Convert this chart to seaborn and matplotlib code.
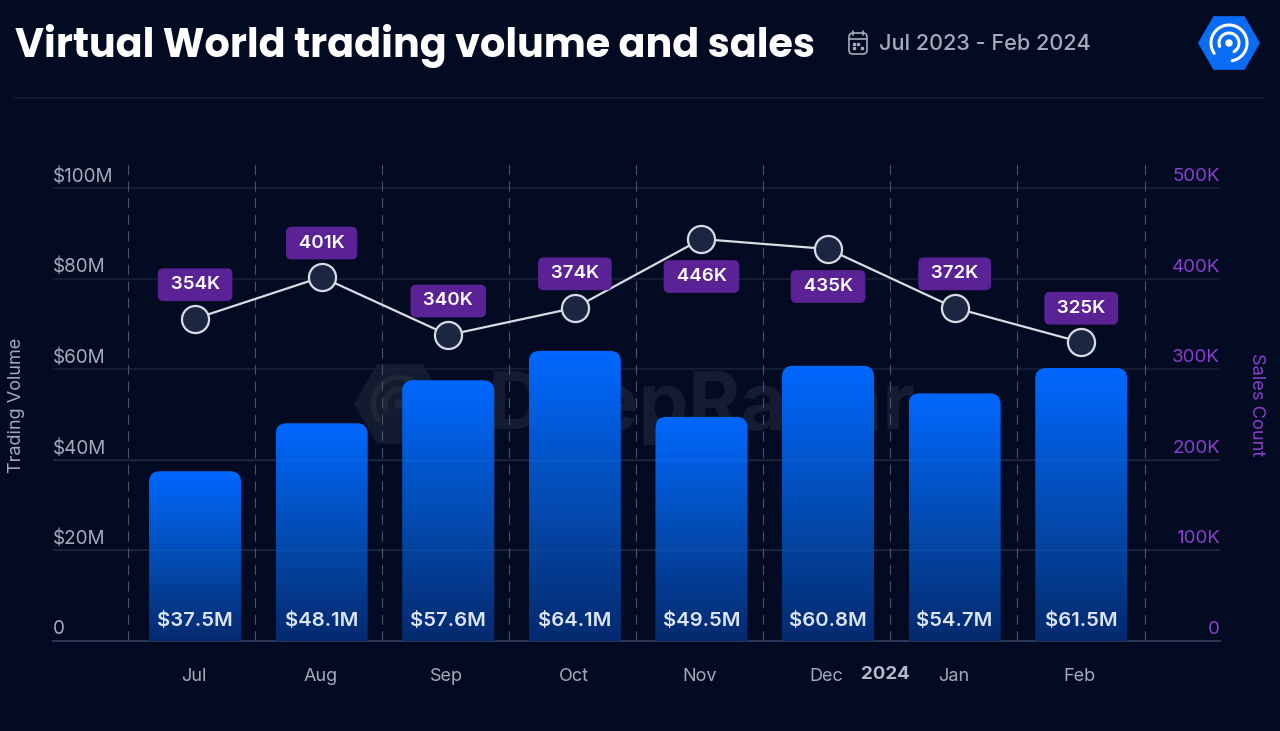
import numpy as np
import pandas as pd
import matplotlib.pyplot as plt
import seaborn as sns
from matplotlib.colors import LinearSegmentedColormap
from matplotlib.patches import Arc, Circle, FancyBboxPatch, PathPatch, RegularPolygon
from matplotlib.path import Path
from matplotlib.transforms import ScaledTranslation

# Data (marks as they sit on the axes, labels as printed)
months = ["Jul", "Aug", "Sep", "Oct", "Nov", "Dec", "Jan", "Feb"]
volume = [37.5, 48.1, 57.6, 64.1, 49.5, 60.8, 54.7, 60.3]
volume_text = ["$37.5M", "$48.1M", "$57.6M", "$64.1M", "$49.5M", "$60.8M", "$54.7M", "$61.5M"]
sales = [356, 402, 338, 368, 444, 433, 368, 330]
sales_text = ["354K", "401K", "340K", "374K", "446K", "435K", "372K", "325K"]
volume_ticks = [0, 20, 40, 60, 80, 100]
volume_labels = ["0", "$20M", "$40M", "$60M", "$80M", "$100M"]
sales_ticks = [0, 100, 200, 300, 400, 500]
sales_labels = ["0", "100K", "200K", "300K", "400K", "500K"]
# sales label sits below the point for these months
below = ["Nov", "Dec"]

BG = "#020b22"
GRID = "#16213a"
GREY = "#a4abba"
PURPLE = "#8a3fcf"

sns.set_theme(style="dark")
plt.rcParams["font.family"] = ["Inter", "DejaVu Sans"]

df = pd.DataFrame({"month": months, "volume": volume, "sales": sales})

fig = plt.figure(figsize=(12.8, 7.31), dpi=100, facecolor=BG)


def draw_logo(axis, cx, cy, size, hex_color, ring_color, lw):
    axis.add_patch(RegularPolygon((cx, cy), 6, radius=size, orientation=np.pi / 2,
                                  facecolor=hex_color, edgecolor="none"))
    r = size / 31
    # y axis is flipped here, so the angles run the other way round on screen
    axis.add_patch(Arc((cx, cy), 36 * r, 36 * r, theta1=145, theta2=80, color=ring_color,
                       lw=lw, capstyle="round"))
    axis.add_patch(Arc((cx, cy), 20 * r, 20 * r, theta1=160, theta2=60, color=ring_color,
                       lw=lw, capstyle="round"))
    axis.add_patch(Circle((cx, cy), 3 * r, color=ring_color))


# Backdrop in pixel coordinates: header and watermark
bg = fig.add_axes([0, 0, 1, 1], zorder=-1)
bg.set_xlim(0, 1280)
bg.set_ylim(731, 0)
bg.axis("off")
bg.text(15, 46, "Virtual World trading volume and sales", fontsize=28.6, fontweight="bold",
        color="white", va="center", ha="left", family=["Poppins", "Inter", "DejaVu Sans"])
bg.text(879, 44, "Jul 2023 - Feb 2024", fontsize=15.6, fontweight="medium", color=GREY,
        va="center", ha="left")
bg.plot([14, 1263], [98, 98], color="#141e33", lw=1.2)
bg.add_patch(FancyBboxPatch((849, 33), 18, 21, boxstyle="round,pad=0,rounding_size=4",
                            facecolor="none", edgecolor=GREY, lw=1.2))
bg.plot([849, 867], [39, 39], color=GREY, lw=1.2)
bg.plot([853, 853], [31, 35], color=GREY, lw=1.2)
bg.plot([863, 863], [31, 35], color=GREY, lw=1.2)
bg.plot([854, 858, 854, 862], [44, 44, 48, 48], ls="none", marker="s", ms=1.4, color=GREY)
draw_logo(bg, 1229, 43, 31, "#0a6cf5", "white", 2.2)
# watermark
draw_logo(bg, 400, 404, 46, "#121b2f", "#1e2739", 4)
bg.text(488, 408, "DeepRadar", fontsize=57, fontweight="bold", color="#131c31", va="center", ha="left")

# Main axes: left 53 px, right 1220 px, top 163 px, bottom 641 px
ax = fig.add_axes([53 / 1280, (731 - 641) / 731, (1220 - 53) / 1280, (641 - 163) / 731])
ax.patch.set_visible(False)

sns.barplot(data=df, x="month", y="volume", ax=ax, width=0.727, color="#0066ff", saturation=1)

# Swap the plain bars for gradient ones with rounded top corners
cmap = LinearSegmentedColormap.from_list("bar", ["#042a6e", "#034db5", "#0068ff"])
gradient = np.linspace(0, 1, 256).reshape(-1, 1)
xlim = (-1.122, 8.096)
ylim = (0, 105.6)
rx, ry = 0.085, 2.4
for bar in ax.patches:
    x0, w, h = bar.get_x(), bar.get_width(), bar.get_height()
    bar.set_visible(False)
    outline = Path(
        [(x0, 0), (x0, h - ry), (x0, h), (x0 + rx, h), (x0 + w - rx, h), (x0 + w, h),
         (x0 + w, h - ry), (x0 + w, 0), (x0, 0)],
        [Path.MOVETO, Path.LINETO, Path.CURVE3, Path.CURVE3, Path.LINETO, Path.CURVE3,
         Path.CURVE3, Path.LINETO, Path.CLOSEPOLY])
    img = ax.imshow(gradient, extent=(x0, x0 + w, 0, h), origin="lower", aspect="auto",
                    cmap=cmap, zorder=3)
    clip = PathPatch(outline, transform=ax.transData, facecolor="none", edgecolor="none")
    ax.add_patch(clip)
    img.set_clip_path(clip)

for i, t in enumerate(volume_text):
    ax.annotate(t, (i, 0), xytext=(0, 14.5), textcoords="offset points",
                ha="center", va="center", fontsize=14.6, fontweight="semibold",
                color="#dde5f2", zorder=5)

# the dashed separators run a touch wider than the bars do
for pos in np.linspace(-0.53, 7.5, 9):
    ax.axvline(pos, color="#4a5468", lw=0.8, dashes=(9, 6), zorder=2)

ax.set_xlim(*xlim)
ax.set_ylim(*ylim)
ax.set_yticks(volume_ticks, volume_labels)
ax.set_xticks(range(len(months)), months)
ax.set_xlabel("")
ax.set_ylabel("")
ax.grid(False)
ax.grid(axis="y", color=GRID, lw=1.2, zorder=1)
ax.set_axisbelow(True)
# faint grid shows through the bars too
for t in volume_ticks[1:3]:
    ax.axhline(t, color="white", alpha=0.05, lw=1, zorder=4)
for side in ax.spines:
    ax.spines[side].set_visible(False)
ax.spines["bottom"].set_visible(True)
ax.spines["bottom"].set_color("#2c3855")
ax.spines["bottom"].set_linewidth(1.4)
ax.tick_params(axis="x", length=0, pad=19.5, labelsize=13, labelcolor=GREY)
ax.tick_params(axis="y", length=0, pad=0, labelsize=13.6, labelcolor=GREY)
for label in ax.get_xticklabels():
    label.set_transform(label.get_transform() + ScaledTranslation(-1 / 72, 0, fig.dpi_scale_trans))
for label in ax.get_yticklabels():
    label.set_ha("left")
    label.set_va("center")
    label.set_transform(label.get_transform() + ScaledTranslation(0, 8.4 / 72, fig.dpi_scale_trans))

ax.text(5.45, -7.5, "2024", ha="center", va="center", fontsize=13.5, fontweight="bold",
        color="#b4bac7", clip_on=False)

# Sales line on the right axis
ax2 = ax.twinx()
ax2.patch.set_visible(False)
sns.lineplot(data=df, x="month", y="sales", ax=ax2, sort=False, color="#d8dce4", lw=1.6,
             marker="o", markersize=19.5, markerfacecolor="#1b2741", markeredgecolor="#d8dce4",
             markeredgewidth=1.6, zorder=6)
ax2.set_xlim(*xlim)
ax2.set_ylim(0, 528)
ax2.set_yticks(sales_ticks, sales_labels)
ax2.set_xlabel("")
ax2.set_ylabel("")
ax2.grid(False)
for side in ax2.spines:
    ax2.spines[side].set_visible(False)
ax2.tick_params(axis="y", length=0, pad=0, labelsize=13.5, labelcolor=PURPLE)
for label in ax2.get_yticklabels():
    label.set_ha("right")
    label.set_va("center")
    label.set_transform(label.get_transform() + ScaledTranslation(0, 8.4 / 72, fig.dpi_scale_trans))

for i, (m, s, t) in enumerate(zip(months, sales, sales_text)):
    dy = -27 if m in below else 24.5
    # spaces widen the pill sideways only
    ax2.annotate(f" {t} ", (i, s), xytext=(0, dy), textcoords="offset points",
                 ha="center", va="center", fontsize=13.5, fontweight="semibold", color="white",
                 bbox=dict(boxstyle="round,pad=0.42,rounding_size=0.3", facecolor="#5b2296",
                           edgecolor="none"), zorder=7)

fig.text(17 / 1280, 1 - 405 / 731, "Trading Volume", rotation=90, ha="center", va="center",
         fontsize=13, color=GREY)
fig.text(1257 / 1280, 1 - 405 / 731, "Sales Count", rotation=270, ha="center", va="center",
         fontsize=13.2, color=PURPLE)

fig.savefig("out.png", dpi=100, facecolor=BG)
